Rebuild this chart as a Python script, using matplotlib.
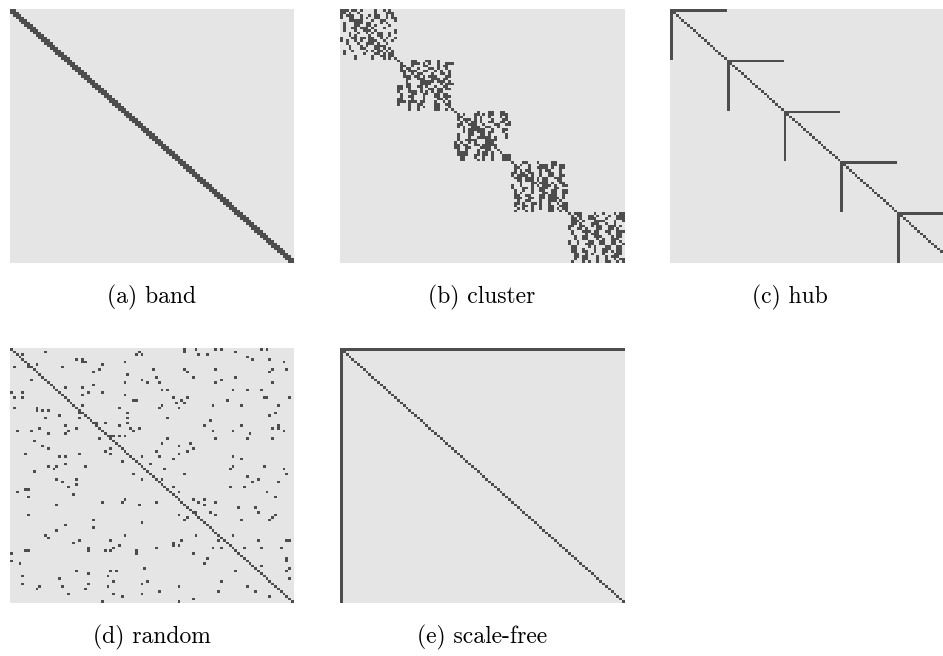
import numpy as np
import matplotlib
matplotlib.use("Agg")
import matplotlib.pyplot as plt
from matplotlib.colors import ListedColormap

# ---- data -------------------------------------------------------------
N = 100
BAND_OFFSETS = [-1, 0, 1]
HUB_NODES = [0, 20, 40, 60, 80]
HUB_SIZE = 20
SCALEFREE_HUB = 0
CLUSTER_STARTS = [0, 20, 40, 60, 80]

# filled columns per row inside each 20x20 cluster block (local indices)
CLUSTER_BLOCK_1 = [
    [0, 1, 2, 4, 5, 7, 12, 15, 17], [0, 1, 3, 6, 12, 16, 17, 18],
    [0, 2, 3, 4, 7, 10, 12, 13, 16, 18], [0, 3, 4, 7, 9, 12, 13, 16, 18, 19],
    [3, 4, 5, 6, 7, 11, 14, 15, 19], [1, 5, 6, 7, 9, 10, 14, 16],
    [1, 5, 6, 9, 10, 12, 17], [1, 4, 5, 7, 8, 9, 11, 15],
    [1, 5, 8, 9, 10, 12, 19], [3, 6, 9, 11, 13, 14, 17, 19],
    [3, 5, 10, 13, 14, 17], [0, 4, 5, 7, 8, 10, 11, 14, 16, 19],
    [0, 2, 5, 7, 10, 11, 12, 15, 18], [2, 6, 9, 10, 11, 13, 16],
    [3, 7, 9, 12, 13, 14, 15], [3, 7, 8, 12, 13, 15, 17],
    [1, 4, 9, 11, 13, 14, 16, 18], [1, 8, 12, 13, 15, 17, 18],
    [5, 11, 14, 15, 17, 18], [5, 11, 15, 17, 19],
]
CLUSTER_BLOCK_2 = [
    [0, 5, 6, 10, 11, 14], [1, 5, 6, 7, 9, 11, 14, 17, 18, 19],
    [1, 2, 5, 9, 10, 14, 16, 17], [1, 3, 4, 7, 11, 12, 14, 17],
    [1, 2, 4, 5, 6, 9, 10, 13, 15, 18], [2, 5, 7, 8, 12, 15, 16, 18],
    [2, 3, 4, 6, 7, 9, 11, 12, 13, 17, 18], [3, 4, 7, 8, 9, 12, 13, 14, 16, 17],
    [3, 8, 9, 10, 11, 12, 14, 15, 16, 18], [3, 4, 8, 9, 10, 11, 15, 17, 18, 19],
    [0, 1, 3, 4, 7, 8, 10, 13, 16, 17], [0, 1, 4, 8, 11, 12, 14, 15, 17, 18],
    [0, 4, 5, 6, 8, 10, 12, 14, 15], [1, 5, 6, 9, 10, 13, 14, 16, 17],
    [1, 4, 5, 9, 13, 14, 16, 17, 18], [0, 1, 5, 9, 14, 15, 17],
    [0, 1, 2, 4, 5, 6, 8, 9, 13, 16, 18], [0, 4, 7, 8, 13, 14, 17, 18],
    [4, 7, 9, 13, 14, 18], [4, 7, 13, 14, 17, 19],
]
CLUSTER_BLOCK_3 = [
    [0, 8, 12, 13, 16, 17], [1, 3, 7, 8, 10, 12, 13, 16, 17, 18],
    [1, 2, 7, 9, 12, 16, 18], [1, 3, 4, 5, 7, 9, 13, 17, 18],
    [2, 4, 6, 7, 9, 12, 13, 16, 17, 19], [1, 2, 5, 6, 7, 10, 14, 15, 18, 19],
    [1, 3, 6, 7, 8, 11, 12, 15], [3, 5, 6, 7, 8, 9, 10, 13, 17, 18],
    [3, 5, 6, 8, 9, 10, 12, 13, 17], [1, 5, 6, 9, 10, 12, 18],
    [1, 5, 8, 9, 10, 11, 12, 14, 18], [1, 4, 5, 6, 7, 11, 12, 13, 14],
    [0, 2, 5, 7, 11, 12, 13], [0, 1, 3, 4, 7, 8, 10, 11, 12, 13, 14],
    [0, 1, 4, 5, 9, 10, 11, 12, 14], [1, 4, 8, 11, 12, 15],
    [1, 2, 3, 4, 8, 10, 11, 13, 16], [1, 2, 3, 4, 7, 8, 10, 11, 13, 17, 18, 19],
    [2, 3, 7, 10, 13, 17, 18, 19], [2, 3, 8, 10, 13, 17, 18, 19],
]
CLUSTER_BLOCK_4 = [
    [0, 4, 5, 9, 14, 15], [1, 3, 6, 10, 11, 12, 14, 15, 17, 18],
    [1, 2, 6, 9, 10, 11, 12, 14, 17, 18], [1, 3, 5, 6, 10, 12, 13, 17],
    [0, 1, 3, 4, 6, 7, 10, 13, 14, 17], [0, 2, 3, 4, 5, 7, 10, 13, 14, 17, 18],
    [1, 2, 3, 5, 6, 7, 9, 11, 12, 15, 16, 17], [2, 3, 5, 6, 7, 9, 11, 12, 16, 17],
    [3, 7, 8, 10, 11, 12, 14, 17, 18], [0, 3, 7, 9, 11, 12, 13, 15, 18, 19],
    [0, 4, 5, 7, 10, 11, 12, 15, 16], [1, 4, 7, 10, 11, 14, 15, 18, 19],
    [1, 3, 7, 11, 12, 14, 15, 18, 19], [1, 2, 5, 6, 10, 11, 13, 14, 15, 18],
    [1, 2, 3, 6, 7, 10, 11, 13, 14, 15, 16, 18], [2, 5, 6, 10, 13, 14, 15, 17],
    [1, 2, 4, 7, 8, 10, 13, 16, 18, 19], [1, 4, 5, 7, 10, 13, 14, 17, 18, 19],
    [2, 4, 7, 10, 13, 14, 16, 18, 19], [1, 5, 7, 13, 14, 17, 19],
]
CLUSTER_BLOCK_5 = [
    [0, 2, 3, 4, 9, 12, 16, 18, 19], [1, 3, 4, 7, 8, 10, 14, 17, 18, 19],
    [1, 2, 4, 7, 8, 9, 13, 17, 18, 19], [1, 2, 3, 5, 9, 10, 11, 12, 16, 19],
    [1, 2, 4, 8, 9, 10, 13, 16], [0, 1, 4, 5, 8, 10, 11, 14, 15, 16, 18],
    [0, 3, 4, 6, 10, 11, 14, 15, 17], [1, 5, 6, 7, 9, 10, 13, 14, 17, 18, 19],
    [1, 6, 8, 9, 10, 14, 17, 18], [2, 5, 6, 9, 10, 11, 15, 17, 18],
    [2, 5, 6, 10, 12, 15, 16, 17], [0, 3, 7, 8, 11, 12, 15, 16, 18],
    [0, 3, 6, 7, 8, 11, 12, 15, 16, 19], [1, 2, 7, 9, 13, 14, 17, 18],
    [1, 2, 5, 9, 12, 13, 14, 17, 18], [1, 2, 5, 6, 9, 12, 13, 15, 17, 18],
    [2, 3, 6, 8, 12, 16, 17, 18], [2, 3, 5, 6, 10, 13, 15, 16, 17],
    [2, 5, 6, 10, 13, 16, 18, 19], [1, 5, 7, 10, 13, 14, 17, 19],
]
CLUSTER_BLOCKS = [CLUSTER_BLOCK_1, CLUSTER_BLOCK_2, CLUSTER_BLOCK_3,
                  CLUSTER_BLOCK_4, CLUSTER_BLOCK_5]

# off-diagonal (row, col) cells of the random graph
RANDOM_EDGES = [
    (1, 12), (2, 4), (1, 45), (2, 44), (2, 46), (4, 23), (4, 25), (5, 25), (5, 26),
    (5, 40), (6, 9), (6, 32), (7, 1), (7, 6), (7, 18), (8, 31), (9, 29), (10, 41),
    (12, 7), (12, 46), (13, 48), (13, 40), (14, 29), (15, 19), (15, 25), (17, 0),
    (17, 4), (17, 27), (17, 32), (18, 25), (18, 40), (19, 1), (19, 4), (20, 43),
    (20, 44), (22, 25), (23, 1), (23, 9), (24, 9), (24, 11), (24, 13), (23, 38),
    (25, 24), (25, 41), (26, 17), (27, 24), (27, 12), (27, 41), (29, 41), (29, 30),
    (29, 33), (30, 19), (31, 23), (31, 10), (30, 38), (31, 42), (31, 45), (32, 43),
    (32, 2), (32, 7), (32, 20), (33, 13), (33, 19), (34, 35), (34, 36), (34, 38),
    (34, 40), (35, 31), (36, 8), (38, 11), (39, 13), (39, 35), (40, 33), (41, 5),
    (41, 24), (41, 35), (42, 17), (42, 19), (42, 46), (44, 39), (45, 19), (45, 49),
    (46, 13), (46, 16), (46, 26), (47, 15), (48, 8), (49, 43),
    (0, 61), (1, 61), (0, 65), (0, 72), (0, 74), (0, 88), (0, 90), (1, 79), (2, 66),
    (2, 69), (3, 83), (4, 85), (4, 91), (5, 96), (8, 50), (8, 61), (9, 62), (8, 72),
    (8, 92), (9, 91), (8, 97), (11, 51), (11, 64), (11, 79), (12, 74), (13, 72),
    (13, 52), (13, 92), (16, 53), (16, 55), (16, 78), (16, 83), (16, 88), (19, 57),
    (19, 62), (20, 60), (21, 58), (21, 61), (20, 76), (19, 89), (19, 90), (19, 98),
    (22, 53), (23, 52), (23, 59), (22, 71), (22, 81), (22, 94), (25, 93), (26, 91),
    (27, 55), (28, 70), (30, 68), (30, 81), (30, 94), (31, 94), (31, 92), (32, 71),
    (32, 78), (32, 96), (33, 84), (35, 55), (35, 72), (35, 83), (35, 92), (37, 53),
    (37, 63), (38, 59), (39, 64), (40, 51), (40, 62), (41, 59), (42, 52), (43, 57),
    (42, 78), (43, 81), (47, 54), (46, 78), (47, 77), (46, 89), (47, 96), (49, 61),
    (49, 97),
    (51, 16), (52, 18), (51, 23), (53, 23), (54, 20), (51, 46), (55, 5), (55, 6),
    (56, 2), (58, 6), (57, 22), (61, 16), (60, 32), (60, 39), (59, 40), (61, 45),
    (65, 6), (67, 29), (68, 46), (69, 19), (70, 29), (71, 16), (73, 12), (74, 13),
    (73, 40), (76, 22), (75, 24), (75, 35), (77, 38), (78, 36), (78, 27), (79, 27),
    (79, 5), (79, 6), (79, 33), (79, 35), (79, 44), (80, 44), (80, 0), (83, 0),
    (84, 3), (86, 47), (87, 23), (87, 35), (87, 37), (88, 27), (89, 4), (89, 34),
    (90, 17), (91, 36), (91, 48), (92, 4), (92, 27), (92, 46), (93, 10), (94, 9),
    (93, 18), (94, 26), (93, 34), (96, 20), (96, 36), (96, 46), (97, 39), (99, 32),
    (50, 83), (51, 87), (52, 85), (52, 94), (51, 53), (54, 57), (56, 59), (54, 77),
    (54, 82), (56, 90), (58, 93), (60, 51), (59, 64), (60, 66), (59, 68), (61, 68),
    (60, 72), (62, 80), (62, 86), (64, 87), (64, 70), (64, 65), (65, 59), (65, 72),
    (66, 62), (67, 61), (67, 81), (67, 91), (66, 92), (65, 93), (73, 65), (73, 78),
    (75, 60), (75, 73), (75, 87), (75, 97), (75, 98), (76, 57), (77, 57), (77, 59),
    (78, 51), (78, 71), (78, 74), (78, 82), (78, 88), (78, 95), (80, 64), (82, 97),
    (83, 97), (82, 69), (84, 68), (85, 88), (86, 98), (87, 97), (87, 79), (90, 98),
    (91, 74), (93, 59), (93, 83), (95, 52), (95, 73), (95, 86), (97, 91), (98, 64),
    (99, 59),
]

CAPTIONS = ["(a) band", "(b) cluster", "(c) hub", "(d) random", "(e) scale-free"]

BG = "#e5e5e5"
FG = "#4d4d4d"


def band():
    m = np.zeros((N, N))
    for k in BAND_OFFSETS:
        m += np.eye(N, k=k)
    return m


def cluster():
    m = np.eye(N)
    for start, block in zip(CLUSTER_STARTS, CLUSTER_BLOCKS):
        for r, cols in enumerate(block):
            for c in cols:
                m[start + r, start + c] = 1
    return m


def hub():
    m = np.eye(N)
    for h in HUB_NODES:
        m[h, h:h + HUB_SIZE] = 1
        m[h:h + HUB_SIZE, h] = 1
    return m


def random_graph():
    m = np.eye(N)
    for r, c in RANDOM_EDGES:
        m[r, c] = 1
    return m


def scale_free():
    m = np.eye(N)
    m[SCALEFREE_HUB, :] = 1
    m[:, SCALEFREE_HUB] = 1
    return m


W, H = 943, 656
fig = plt.figure(figsize=(W / 100, H / 100), dpi=100)
cmap = ListedColormap([BG, FG])

# panel boxes in pixels: left, top, width, height
boxes = [(10, 9, 284, 254), (340, 9, 285, 254), (670, 9, 284, 254),
         (10, 348, 284, 255), (340, 348, 285, 255)]
mats = [band(), cluster(), hub(), random_graph(), scale_free()]
cap_pos = [(152, 297), (482, 297), (790, 297), (152, 637), (482, 637)]

for (x, y, w, h), m in zip(boxes, mats):
    ax = fig.add_axes([x / W, 1 - (y + h) / H, w / W, h / H])
    ax.imshow(m, cmap=cmap, vmin=0, vmax=1, aspect="auto",
              interpolation="nearest")
    ax.axis("off")

for (cx, cy), txt in zip(cap_pos, CAPTIONS):
    fig.text(cx / W, 1 - cy / H, txt, ha="center", va="center",
             family="cmr10", fontsize=17)

fig.savefig("out.png", dpi=100)
